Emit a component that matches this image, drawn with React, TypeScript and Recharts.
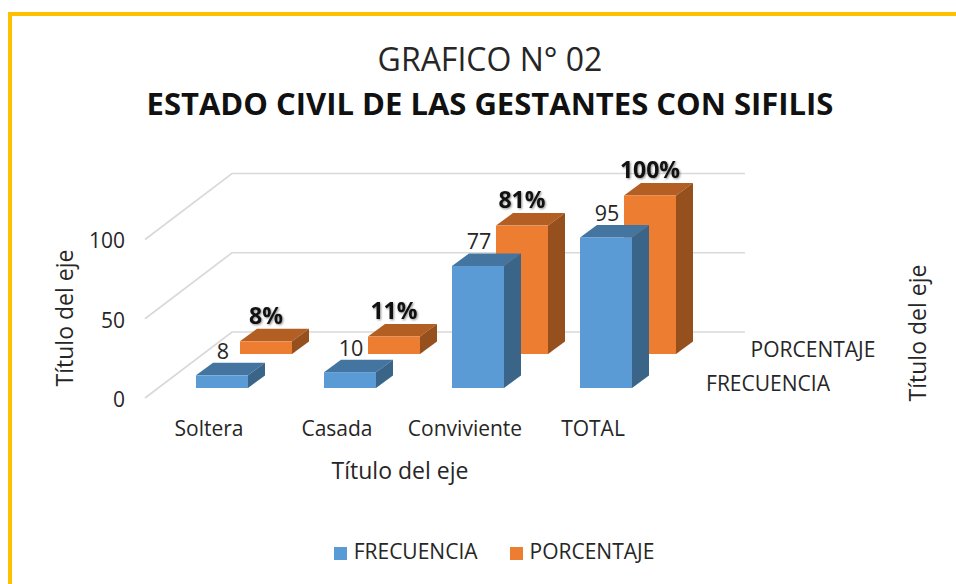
import { BarChart, Bar, CartesianGrid, LabelList, Legend, XAxis, YAxis } from 'recharts';

const categories = ['Soltera', 'Casada', 'Conviviente', 'TOTAL'];
const frecuencia = [8, 10, 77, 95];
const porcentaje = [8, 11, 81, 100];
const yTicks = [0, 50, 100];

const data = categories.map((name, i) => ({
  name,
  FRECUENCIA: frecuencia[i],
  PORCENTAJE: porcentaje[i],
}));

const FONT = '"Open Sans", sans-serif';
const INK = '#262626';

// every bar is pushed along the fake depth axis from its band position
const cuboid =
  (front: string, top: string, side: string, dx: number, dy: number) =>
  ({ x, y, width, height }: any) => {
    const l = x + dx;
    const r = l + width;
    const t = y + dy;
    const b = t + height;
    const ox = 17;
    const oy = 12.5;
    return (
      <g>
        <polygon points={`${l},${t} ${l + ox},${t - oy} ${r + ox},${t - oy} ${r},${t}`} fill={top} />
        <polygon points={`${r},${t} ${r + ox},${t - oy} ${r + ox},${b - oy} ${r},${b}`} fill={side} />
        <rect x={l} y={t} width={width} height={height} fill={front} />
      </g>
    );
  };

const wallLine = ({ x1, x2, y1 }: any) => (
  <polyline
    key={y1}
    points={`${x1},${y1} ${x1 + 87},${y1 - 66} ${x2 + 88},${y1 - 66}`}
    fill="none"
    stroke="#D9D9D9"
    strokeWidth={1.7}
  />
);

const plainLabel =
  (dx: number, dy: number) =>
  ({ x, y, width, value }: any) => (
    <text
      x={x + width / 2 + dx}
      y={y + dy}
      textAnchor="middle"
      dominantBaseline="central"
      fontFamily={FONT}
      fontSize={21.5}
      fill={INK}
    >
      {value}
    </text>
  );

const boldLabel =
  (dx: number, dy: number) =>
  ({ x, y, width, value }: any) => (
    <text
      x={x + width / 2 + dx}
      y={y + dy}
      textAnchor="middle"
      dominantBaseline="central"
      fontFamily={FONT}
      fontSize={23}
      fontWeight={700}
      fill="#111"
      style={{ filter: 'drop-shadow(1px 1px 1px rgba(0,0,0,0.45))' }}
    >
      {value}%
    </text>
  );

export default function App() {
  return (
    <div style={{ position: 'absolute', left: 0, top: 0, width: 956, height: 584, overflow: 'hidden', background: '#fff' }}>
      <div
        style={{
          position: 'absolute',
          left: 8,
          top: 12,
          right: 0,
          bottom: 0,
          borderTop: '4px solid #FFC000',
          borderLeft: '4px solid #FFC000',
        }}
      />
      <BarChart
        width={956}
        height={584}
        data={data}
        barSize={52}
        barGap={-52}
        margin={{ top: 239.5, right: 299, bottom: 156, left: 85 }}
        style={{ position: 'absolute', left: 0, top: 0 }}
      >
        <CartesianGrid vertical={false} horizontal={wallLine} />
        <XAxis
          dataKey="name"
          height={30}
          axisLine={false}
          tickLine={false}
          tickMargin={17}
          interval={0}
          tick={{ fontFamily: FONT, fontSize: 21, fill: INK }}
        />
        <YAxis
          width={60}
          domain={[0, 100]}
          ticks={yTicks}
          axisLine={false}
          tickLine={false}
          tickMargin={14}
          tick={{ fontFamily: FONT, fontSize: 21, fill: INK, dy: 1.5 }}
        />
        <Bar
          dataKey="PORCENTAJE"
          fill="#ED7D31"
          isAnimationActive={false}
          shape={cuboid('#ED7D31', '#B35E22', '#95501E', 57, -44)}
        >
          <LabelList dataKey="PORCENTAJE" content={boldLabel(57, -70.5)} />
        </Bar>
        <Bar
          dataKey="FRECUENCIA"
          fill="#5B9BD5"
          isAnimationActive={false}
          shape={cuboid('#5B9BD5', '#4475A0', '#3A6588', 13, -10)}
        >
          <LabelList dataKey="FRECUENCIA" content={plainLabel(14, -35)} />
        </Bar>
        <Legend
          verticalAlign="middle"
          iconType="square"
          iconSize={13}
          wrapperStyle={{ top: 537, left: 0, width: 1020, fontFamily: FONT, fontSize: 21 }}
          formatter={(value: string) => (
            <span style={{ color: INK, marginLeft: 3, marginRight: 22 }}>{value}</span>
          )}
        />
        <text x={490} y={58} textAnchor="middle" dominantBaseline="central" fontFamily={FONT} fontSize={32} fill={INK}>
          GRAFICO N° 02
        </text>
        <text x={490} y={103} textAnchor="middle" dominantBaseline="central" fontFamily={FONT} fontSize={31} fontWeight={700} fill="#111">
          ESTADO CIVIL DE LAS GESTANTES CON SIFILIS
        </text>
        <text x={400} y={470} textAnchor="middle" dominantBaseline="central" fontFamily={FONT} fontSize={23} fill={INK}>
          Título del eje
        </text>
        <text x={64} y={318} transform="rotate(-90 64 318)" textAnchor="middle" dominantBaseline="central" fontFamily={FONT} fontSize={23} fill={INK}>
          Título del eje
        </text>
        <text x={917} y={333} transform="rotate(-90 917 333)" textAnchor="middle" dominantBaseline="central" fontFamily={FONT} fontSize={23} fill={INK}>
          Título del eje
        </text>
        <text x={813} y={349} textAnchor="middle" dominantBaseline="central" fontFamily={FONT} fontSize={21} fill={INK}>
          PORCENTAJE
        </text>
        <text x={768} y={383} textAnchor="middle" dominantBaseline="central" fontFamily={FONT} fontSize={21} fill={INK}>
          FRECUENCIA
        </text>
      </BarChart>
    </div>
  );
}
